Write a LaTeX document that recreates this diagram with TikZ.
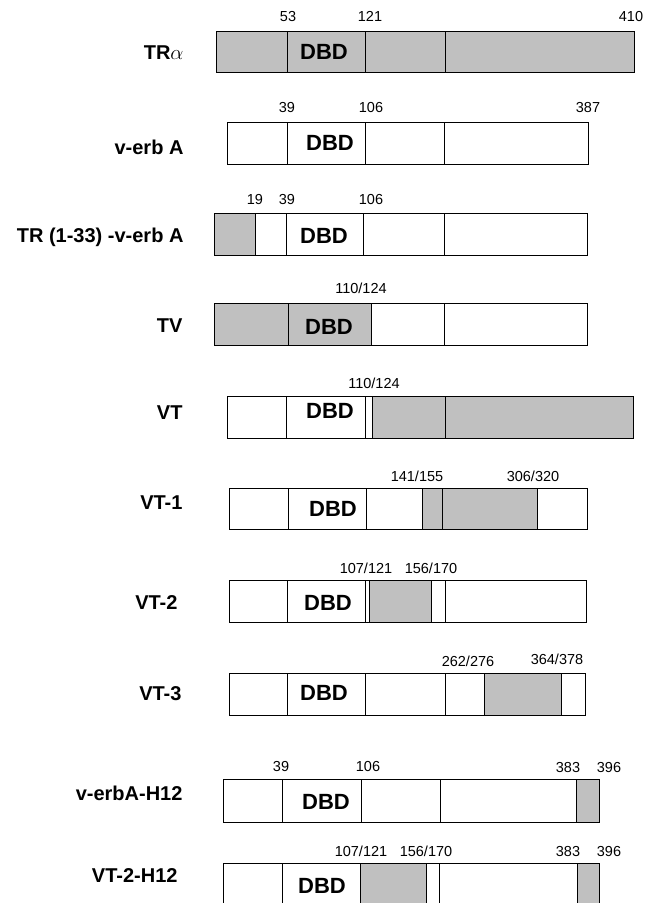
\documentclass[tikz,border=0pt]{standalone}
\usepackage{fontspec}
\setmainfont{Liberation Sans}
\definecolor{boxgray}{HTML}{C0C0C0}

\begin{document}
\begin{tikzpicture}[x=1pt, y=-1pt, line width=1pt,
    construct/.style={anchor=east, inner sep=0pt, text height=14.4pt, text depth=0pt,
      font=\fontsize{20}{24}\selectfont\bfseries},
    residue/.style={inner sep=0pt, text height=10.4pt, text depth=0pt,
      font=\fontsize{14.5}{17}\selectfont},
    dbd/.style={inner sep=0pt, text height=15.8pt, text depth=0pt,
      font=\fontsize{22}{26}\selectfont\bfseries},
    shade/.style={fill=boxgray, draw=black}]
  \useasboundingbox (0,0) rectangle (656,903);
  \clip (0,0) rectangle (656,903);

  % TR alpha
  \node[construct] (tra) at (184,52) {TR$\alpha$};
  \filldraw[shade] (216,31) rectangle (634,72);
  \draw (287,31) -- (287,72) (365,31) -- (365,72) (445,31) -- (445,72);
  \node[dbd] (tra-dbd) at (324,52) {DBD};
  \node[residue] (tra-a) at (288,16) {53};
  \node[residue] (tra-b) at (370,16) {121};
  \node[residue] (tra-c) at (631,16) {410};

  % v-erb A
  \node[construct] (verba) at (184,147) {v-erb A};
  \draw (227,122) rectangle (588,164);
  \draw (287,122) -- (287,164) (365,122) -- (365,164) (444,122) -- (444,164);
  \node[dbd] (verba-dbd) at (330,143) {DBD};
  \node[residue] (verba-a) at (287,107) {39};
  \node[residue] (verba-b) at (371,107) {106};
  \node[residue] (verba-c) at (588,107) {387};

  % TR (1-33) - v-erb A
  \node[construct] (trverba) at (184,235) {TR (1-33) -v-erb A};
  \filldraw[shade] (214,213) rectangle (255,255);
  \draw (214,213) rectangle (587,255);
  \draw (286,213) -- (286,255) (363,213) -- (363,255) (444,213) -- (444,255);
  \node[dbd] (trverba-dbd) at (324,236) {DBD};
  \node[residue] (trverba-a) at (255,199) {19};
  \node[residue] (trverba-b) at (287,199) {39};
  \node[residue] (trverba-c) at (371,199) {106};

  % TV
  \node[construct] (tv) at (183,325) {TV};
  \filldraw[shade] (214,303) rectangle (371,345);
  \draw (214,303) rectangle (587,345);
  \draw (288,303) -- (288,345) (444,303) -- (444,345);
  \node[dbd] (tv-dbd) at (329,327) {DBD};
  \node[residue] (tv-a) at (361,288) {110/124};

  % VT
  \node[construct] (vt) at (183,412) {VT};
  \filldraw[shade] (372,396) rectangle (633,438);
  \draw (227,396) rectangle (633,438);
  \draw (286,396) -- (286,438) (365,396) -- (365,438) (445,396) -- (445,438);
  \node[dbd] (vt-dbd) at (330,411) {DBD};
  \node[residue] (vt-a) at (374,383) {110/124};

  % VT-1
  \node[construct] (vt1) at (183,502) {VT-1};
  \filldraw[shade] (422,488) rectangle (537,529);
  \draw (229,488) rectangle (587,529);
  \draw (288,488) -- (288,529) (366,488) -- (366,529) (442,488) -- (442,529);
  \node[dbd] (vt1-dbd) at (333,509) {DBD};
  \node[residue] (vt1-a) at (417,476) {141/155};
  \node[residue] (vt1-b) at (533,476) {306/320};

  % VT-2
  \node[construct] (vt2) at (178,602) {VT-2};
  \filldraw[shade] (369,580) rectangle (431,622);
  \draw (229,580) rectangle (586,622);
  \draw (287,580) -- (287,622) (365,580) -- (365,622) (445,580) -- (445,622);
  \node[dbd] (vt2-dbd) at (328,603) {DBD};
  \node[residue] (vt2-a) at (366,568) {107/121};
  \node[residue] (vt2-b) at (431,568) {156/170};

  % VT-3
  \node[construct] (vt3) at (182,693) {VT-3};
  \filldraw[shade] (484,673) rectangle (561,715);
  \draw (229,673) rectangle (585,715);
  \draw (287,673) -- (287,715) (365,673) -- (365,715) (445,673) -- (445,715);
  \node[dbd] (vt3-dbd) at (324,693) {DBD};
  \node[residue] (vt3-a) at (468,661) {262/276};
  \node[residue] (vt3-b) at (557,659) {364/378};

  % v-erbA-H12
  \node[construct] (verbah) at (183,793) {v-erbA-H12};
  \filldraw[shade] (576,779) rectangle (599,822);
  \draw (223,779) rectangle (599,822);
  \draw (282,779) -- (282,822) (361,779) -- (361,822) (440,779) -- (440,822);
  \node[dbd] (verbah-dbd) at (326,802) {DBD};
  \node[residue] (verbah-a) at (281,766) {39};
  \node[residue] (verbah-b) at (368,766) {106};
  \node[residue] (verbah-c) at (568,767) {383};
  \node[residue] (verbah-d) at (609,767) {396};

  % VT-2-H12
  \node[construct] (vt2h) at (178,875) {VT-2-H12};
  \filldraw[shade] (360,863) rectangle (426,910);
  \filldraw[shade] (577,863) rectangle (599,910);
  \draw (223,863) rectangle (599,910);
  \draw (282,863) -- (282,910) (439,863) -- (439,910);
  \node[dbd] (vt2h-dbd) at (322,886) {DBD};
  \node[residue] (vt2h-a) at (361,851) {107/121};
  \node[residue] (vt2h-b) at (426,851) {156/170};
  \node[residue] (vt2h-c) at (568,851) {383};
  \node[residue] (vt2h-d) at (609,851) {396};
\end{tikzpicture}
\end{document}
